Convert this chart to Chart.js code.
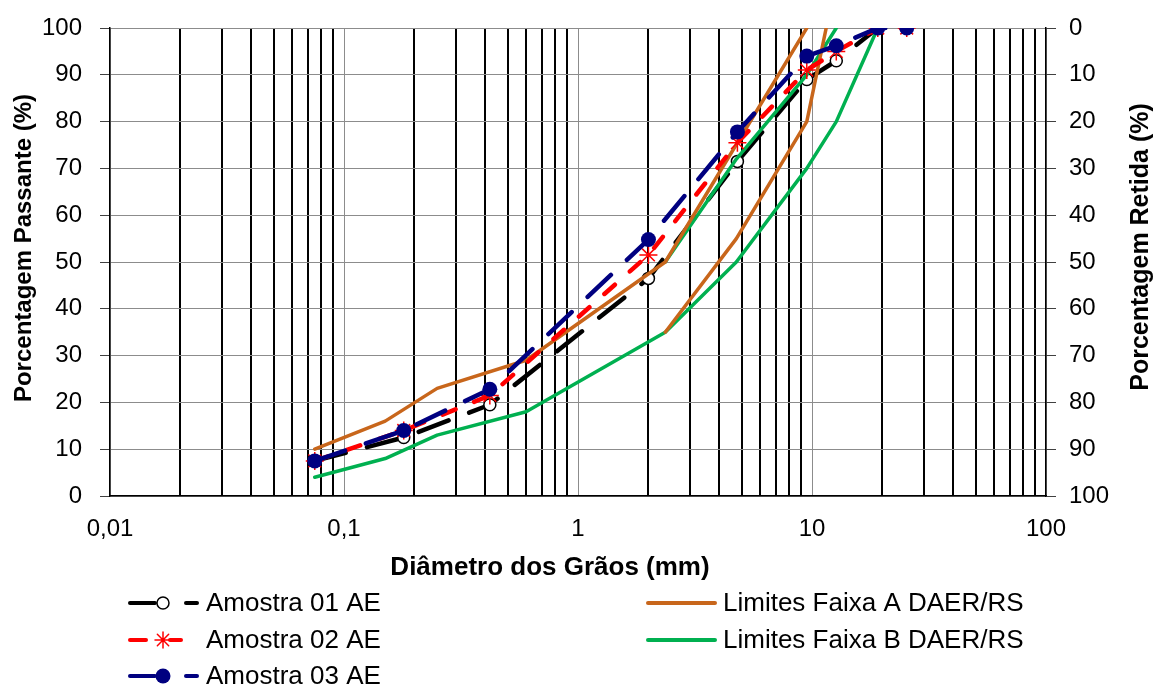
<!DOCTYPE html>
<html>
<head>
<meta charset="utf-8">
<script src="https://cdn.jsdelivr.net/npm/chart.js@4.4.1/dist/chart.umd.min.js"></script>
<style>
  html, body { margin: 0; padding: 0; background: #ffffff; }
  #wrap { width: 1155px; height: 689px; position: relative; }
</style>
</head>
<body>
<div id="wrap"><canvas id="granulometria" width="1155" height="689"></canvas></div>
<script>
// Peneiras (mm) e porcentagens passantes das amostras
const sieveSizes = [0.075, 0.18, 0.42, 2.0, 4.8, 9.5, 12.7, 19.1, 25.4];
const amostra01 = [7.5, 12.5, 19.5, 46.5, 71.5, 89, 93, 100, 100];
const amostra02 = [7.5, 14, 21.5, 51.5, 75.5, 91, 95, 100, 100];
const amostra03 = [7.5, 14, 22.8, 54.8, 77.8, 94, 96.2, 100, 100];

// Limites das faixas granulométricas DAER/RS
const faixaASupSizes = [0.075, 0.15, 0.25, 0.6, 2.36, 9.5];
const faixaASup = [10, 16, 23, 29, 50, 100];
const faixaAInfSizes = [2.36, 4.75, 9.5, 11.5];
const faixaAInf = [35, 55, 80, 100];
const faixaBSupSizes = [2.36, 4.75, 9.5, 12.7];
const faixaBSup = [50, 72, 90, 100];
const faixaBInfSizes = [0.075, 0.15, 0.25, 0.6, 2.36, 4.75, 9.5, 12.7, 19.1];
const faixaBInf = [4, 8, 13, 18, 35, 50, 70, 80, 100];

// Rótulos dos eixos
const xTickLabels = ['0,01', '0,1', '1', '10', '100'];
const yTickValues = [0, 10, 20, 30, 40, 50, 60, 70, 80, 90, 100];

const FONT = '"Liberation Sans", Arial, Helvetica, sans-serif';
const C_BLACK = '#000000';
const C_RED = '#ff0000';
const C_NAVY = '#000080';
const C_ORANGE = '#c8661b';
const C_GREEN = '#00b050';

const pts = (xs, ys) => xs.map((x, i) => ({ x: x, y: ys[i] }));

function isDecade(v) {
  const l = Math.log10(v);
  return Math.abs(l - Math.round(l)) < 1e-9;
}

// Ticks do eixo log: 1..9 x 10^n entre 0,01 e 100
function logTicks() {
  const out = [];
  for (let e = -2; e <= 1; e++) {
    for (let m = 1; m <= 9; m++) {
      out.push({ value: Number((m * Math.pow(10, e)).toPrecision(3)) });
    }
  }
  out.push({ value: 100 });
  return out;
}

function decadeLabel(v) {
  const idx = Math.round(Math.log10(v)) + 2;
  return xTickLabels[idx] !== undefined ? xTickLabels[idx] : '';
}

// Títulos dos eixos e legenda em duas colunas
const decorPlugin = {
  id: 'decor',
  afterDraw(chart) {
    const ctx = chart.ctx;
    ctx.save();
    ctx.fillStyle = '#000';
    ctx.textBaseline = 'middle';

    ctx.font = 'bold 26px ' + FONT;
    ctx.textAlign = 'center';
    ctx.fillText('Diâmetro dos Grãos (mm)', 550, 568);

    ctx.font = 'bold 24px ' + FONT;
    ctx.save();
    ctx.translate(24, 248);
    ctx.rotate(-Math.PI / 2);
    ctx.fillText('Porcentagem Passante (%)', 0, 0);
    ctx.restore();

    ctx.font = 'bold 25px ' + FONT;
    ctx.save();
    ctx.translate(1141, 247);
    ctx.rotate(-Math.PI / 2);
    ctx.fillText('Porcentagem Retida (%)', 0, 0);
    ctx.restore();

    // legenda
    ctx.lineCap = 'round';
    function seg(color, x1, x2, y) {
      ctx.beginPath();
      ctx.strokeStyle = color;
      ctx.lineWidth = 4;
      ctx.moveTo(x1, y);
      ctx.lineTo(x2, y);
      ctx.stroke();
    }
    function star(x, y, r, color) {
      ctx.beginPath();
      ctx.strokeStyle = color;
      ctx.lineWidth = 1.5;
      for (let k = 0; k < 4; k++) {
        const a = k * Math.PI / 4;
        ctx.moveTo(x - r * Math.cos(a), y - r * Math.sin(a));
        ctx.lineTo(x + r * Math.cos(a), y + r * Math.sin(a));
      }
      ctx.stroke();
    }

    // Amostra 01
    seg(C_BLACK, 130, 155, 603);
    seg(C_BLACK, 186, 197, 603);
    ctx.beginPath();
    ctx.arc(163, 603, 6, 0, Math.PI * 2);
    ctx.fillStyle = '#fff';
    ctx.fill();
    ctx.lineWidth = 1.5;
    ctx.strokeStyle = C_BLACK;
    ctx.stroke();

    // Amostra 02
    seg(C_RED, 130, 146, 640);
    seg(C_RED, 170, 181, 640);
    star(163, 640, 8, C_RED);

    // Amostra 03
    seg(C_NAVY, 130, 155, 676);
    seg(C_NAVY, 186, 197, 676);
    ctx.beginPath();
    ctx.arc(163, 676, 7.5, 0, Math.PI * 2);
    ctx.fillStyle = C_NAVY;
    ctx.fill();

    // Faixas
    seg(C_ORANGE, 648, 715, 603);
    seg(C_GREEN, 648, 715, 640);

    ctx.fillStyle = '#000';
    ctx.font = '26px ' + FONT;
    ctx.textAlign = 'left';
    ctx.fillText('Amostra 01 AE', 206, 604);
    ctx.fillText('Amostra 02 AE', 206, 641);
    ctx.fillText('Amostra 03 AE', 206, 677);
    ctx.fillText('Limites Faixa A DAER/RS', 723, 604);
    ctx.fillText('Limites Faixa B DAER/RS', 723, 641);
    ctx.restore();
  }
};

const lineBase = {
  showLine: true,
  tension: 0,
  fill: false,
  borderCapStyle: 'round',
  borderJoinStyle: 'round',
};

// Eixos com largura fixa e sem folga automática para os rótulos
function fixVertical(width) {
  return function (scale) {
    scale.width = width;
    scale.paddingTop = 0;
    scale.paddingBottom = 0;
  };
}

new Chart(document.getElementById('granulometria'), {
  type: 'scatter',
  data: {
    datasets: [
      Object.assign({}, lineBase, {
        label: 'Amostra 03 AE', data: pts(sieveSizes, amostra03), order: 1,
        borderColor: C_NAVY, borderWidth: 4.5, borderDash: [32, 22],
        pointStyle: 'circle', pointRadius: 7.5, pointBackgroundColor: C_NAVY, pointBorderColor: C_NAVY, pointBorderWidth: 0
      }),
      Object.assign({}, lineBase, {
        label: 'Amostra 02 AE', data: pts(sieveSizes, amostra02), order: 2,
        borderColor: C_RED, borderWidth: 4.5, borderDash: [14, 20],
        pointStyle: 'star', pointRadius: 9, pointBackgroundColor: C_RED, pointBorderColor: C_RED, pointBorderWidth: 1.5
      }),
      Object.assign({}, lineBase, {
        label: 'Limites Faixa A DAER/RS', data: pts(faixaASupSizes, faixaASup), order: 3,
        borderColor: C_ORANGE, borderWidth: 3.5, pointRadius: 0
      }),
      Object.assign({}, lineBase, {
        label: 'Limites Faixa A DAER/RS (inf.)', data: pts(faixaAInfSizes, faixaAInf), order: 3,
        borderColor: C_ORANGE, borderWidth: 3.5, pointRadius: 0
      }),
      Object.assign({}, lineBase, {
        label: 'Limites Faixa B DAER/RS', data: pts(faixaBSupSizes, faixaBSup), order: 4,
        borderColor: C_GREEN, borderWidth: 3.5, pointRadius: 0
      }),
      Object.assign({}, lineBase, {
        label: 'Limites Faixa B DAER/RS (inf.)', data: pts(faixaBInfSizes, faixaBInf), order: 4,
        borderColor: C_GREEN, borderWidth: 3.5, pointRadius: 0
      }),
      Object.assign({}, lineBase, {
        label: 'Amostra 01 AE', data: pts(sieveSizes, amostra01), order: 5,
        borderColor: C_BLACK, borderWidth: 4.5, borderDash: [32, 22],
        pointStyle: 'circle', pointRadius: 6, pointBackgroundColor: '#ffffff', pointBorderColor: C_BLACK, pointBorderWidth: 1.5
      })
    ]
  },
  options: {
    responsive: false,
    animation: false,
    devicePixelRatio: 1,
    layout: { padding: { top: 28, bottom: 133, left: 0, right: 0 } },
    plugins: { legend: { display: false }, tooltip: { enabled: false } },
    scales: {
      x: {
        type: 'logarithmic',
        position: 'bottom',
        min: 0.01,
        max: 100,
        afterBuildTicks(scale) { scale.ticks = logTicks(); },
        afterFit(scale) {
          scale.height = 60;
          scale.paddingLeft = 0;
          scale.paddingRight = 0;
        },
        ticks: {
          autoSkip: false,
          maxRotation: 0,
          minRotation: 0,
          padding: 19,
          color: '#000',
          font: { family: FONT, size: 24 },
          callback: (v) => isDecade(v) ? decadeLabel(v) : ''
        },
        grid: {
          drawTicks: false,
          color: (c) => (c.tick && isDecade(c.tick.value)) ? '#8c8c8c' : '#000000',
          lineWidth: (c) => (c.tick && isDecade(c.tick.value)) ? 1 : 2
        },
        border: { color: '#000', width: 1.5 }
      },
      y: {
        type: 'linear',
        position: 'left',
        min: 0,
        max: 100,
        afterBuildTicks(scale) { scale.ticks = yTickValues.map(v => ({ value: v })); },
        afterFit: fixVertical(110),
        ticks: { padding: 18, color: '#000', font: { family: FONT, size: 24 } },
        grid: { color: '#8c8c8c', lineWidth: 1, tickLength: 10, tickColor: '#404040' },
        border: { color: '#000', width: 1.5 }
      },
      y2: {
        type: 'linear',
        position: 'right',
        reverse: true,
        min: 0,
        max: 100,
        afterBuildTicks(scale) { scale.ticks = yTickValues.map(v => ({ value: v })); },
        afterFit: fixVertical(109),
        ticks: { padding: 13, color: '#000', font: { family: FONT, size: 24 } },
        grid: { drawOnChartArea: false, tickLength: 10, tickColor: '#404040' },
        border: { color: '#000', width: 1.5 }
      }
    }
  },
  plugins: [decorPlugin]
});
</script>
</body>
</html>
